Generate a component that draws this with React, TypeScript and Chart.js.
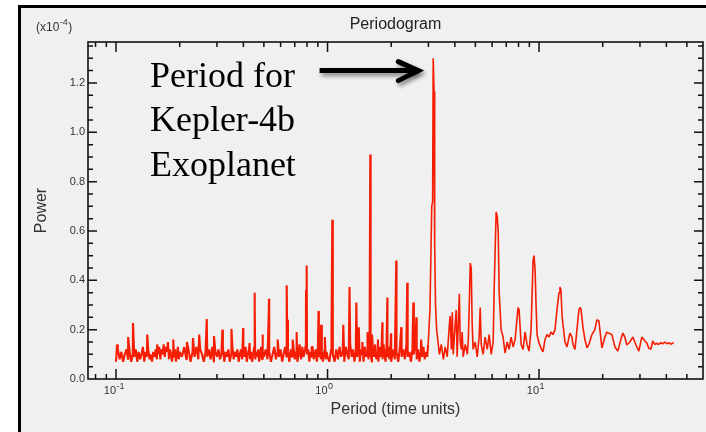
import React, { useEffect, useRef } from 'react';
import { Chart, registerables } from 'chart.js';

Chart.register(...registerables);

// ---------- text ----------
const TITLE = 'Periodogram';
const X_TITLE = 'Period (time units)';
const Y_TITLE = 'Power';
const Y_EXPONENT = '-4';
const CALLOUT_LINES = ['Period for', 'Kepler-4b', 'Exoplanet'];

// ---------- axes ----------
const X_MIN = 0.0737;
const X_MAX = 59.6;
const Y_MIN = 0;
const Y_MAX = 1.366;
const xTickValues = [0.08, 0.09, 0.1, 0.2, 0.3, 0.4, 0.5, 0.6, 0.7, 0.8, 0.9, 1, 2, 3, 4, 5, 6, 7, 8, 9, 10, 20, 30, 40, 50];
const xDecadeValues = [0.1, 1, 10];
const xDecadeExponents = ['-1', '0', '1'];
const yTickValues = [0, 0.05, 0.1, 0.15, 0.2, 0.25, 0.3, 0.35, 0.4, 0.45, 0.5, 0.55, 0.6, 0.65, 0.7, 0.75, 0.8, 0.85, 0.9, 0.95, 1.0, 1.05, 1.1, 1.15, 1.2, 1.25, 1.3, 1.35];
const yLabelValues = [0, 0.2, 0.4, 0.6, 0.8, 1.0, 1.2];

// ---------- data (period, power x1e-4) ----------
const noiseAPeriod = [0.100, 0.102, 0.104, 0.106, 0.108, 0.110, 0.112, 0.114, 0.116, 0.118, 0.120, 0.122, 0.124, 0.126, 0.128, 0.130, 0.132, 0.134, 0.136, 0.138, 0.140, 0.142, 0.144, 0.146, 0.148, 0.150, 0.152, 0.154, 0.156, 0.158, 0.160, 0.162, 0.164, 0.166, 0.168, 0.170, 0.172, 0.174, 0.176, 0.178, 0.180, 0.182, 0.184, 0.186, 0.188, 0.190, 0.192, 0.194, 0.196, 0.198, 0.200];
const noiseAPower = [0.07, 0.12, 0.08, 0.11, 0.07, 0.10, 0.12, 0.08, 0.11, 0.07, 0.10, 0.09, 0.12, 0.07, 0.11, 0.08, 0.10, 0.13, 0.07, 0.11, 0.09, 0.12, 0.08, 0.10, 0.07, 0.11, 0.09, 0.12, 0.08, 0.10, 0.13, 0.08, 0.12, 0.10, 0.14, 0.09, 0.13, 0.11, 0.15, 0.08, 0.12, 0.10, 0.07, 0.11, 0.09, 0.12, 0.07, 0.10, 0.13, 0.08, 0.11];

const noiseBPeriod = [0.205, 0.210, 0.215, 0.220, 0.225, 0.230, 0.235, 0.240, 0.245, 0.250, 0.255, 0.260, 0.265, 0.270, 0.275, 0.280, 0.285, 0.290, 0.295, 0.300, 0.305, 0.310, 0.315, 0.320, 0.325, 0.330, 0.335, 0.340, 0.345, 0.350, 0.355, 0.360, 0.365, 0.370, 0.375, 0.380, 0.385, 0.390, 0.395, 0.400, 0.405, 0.410, 0.415, 0.420, 0.425, 0.430, 0.435, 0.440, 0.445, 0.450, 0.455, 0.460, 0.465, 0.470, 0.475, 0.480, 0.485, 0.490, 0.495, 0.500];
const noiseBPower = [0.09, 0.13, 0.08, 0.12, 0.07, 0.11, 0.09, 0.13, 0.08, 0.12, 0.10, 0.07, 0.11, 0.09, 0.12, 0.08, 0.13, 0.07, 0.11, 0.09, 0.12, 0.08, 0.10, 0.13, 0.07, 0.11, 0.09, 0.12, 0.07, 0.10, 0.13, 0.08, 0.11, 0.09, 0.12, 0.07, 0.10, 0.12, 0.08, 0.11, 0.09, 0.13, 0.07, 0.10, 0.12, 0.08, 0.11, 0.07, 0.10, 0.13, 0.08, 0.11, 0.09, 0.12, 0.07, 0.10, 0.13, 0.08, 0.11, 0.09];

const noiseCPeriod = [0.51, 0.52, 0.53, 0.54, 0.55, 0.56, 0.57, 0.58, 0.59, 0.60, 0.61, 0.62, 0.63, 0.64, 0.65, 0.66, 0.67, 0.68, 0.69, 0.70, 0.71, 0.72, 0.73, 0.74, 0.75, 0.76, 0.77, 0.78, 0.79, 0.80, 0.81, 0.82, 0.83, 0.84, 0.85, 0.86, 0.87, 0.88, 0.89, 0.90, 0.91, 0.92, 0.93, 0.94, 0.95, 0.96, 0.97, 0.98, 0.99, 1.00];
const noiseCPower = [0.12, 0.08, 0.11, 0.07, 0.10, 0.13, 0.08, 0.11, 0.09, 0.12, 0.07, 0.10, 0.13, 0.09, 0.11, 0.07, 0.12, 0.09, 0.13, 0.08, 0.11, 0.07, 0.10, 0.12, 0.08, 0.13, 0.09, 0.11, 0.14, 0.10, 0.12, 0.07, 0.11, 0.09, 0.13, 0.08, 0.10, 0.12, 0.07, 0.11, 0.09, 0.13, 0.08, 0.11, 0.07, 0.10, 0.12, 0.08, 0.11, 0.09];

const noiseDPeriod = [1.02, 1.04, 1.06, 1.08, 1.10, 1.12, 1.14, 1.16, 1.18, 1.20, 1.22, 1.24, 1.26, 1.28, 1.30, 1.32, 1.34, 1.36, 1.38, 1.40, 1.42, 1.44, 1.46, 1.48, 1.50, 1.52, 1.54, 1.56, 1.58, 1.60, 1.62, 1.64, 1.66, 1.68, 1.70, 1.72, 1.74, 1.76, 1.78, 1.80, 1.82, 1.84, 1.86, 1.88, 1.90, 1.92, 1.94, 1.96, 1.98, 2.00];
const noiseDPower = [0.07, 0.12, 0.10, 0.07, 0.12, 0.08, 0.13, 0.09, 0.11, 0.07, 0.13, 0.10, 0.08, 0.14, 0.09, 0.12, 0.07, 0.11, 0.09, 0.13, 0.07, 0.12, 0.10, 0.07, 0.13, 0.09, 0.11, 0.08, 0.12, 0.10, 0.07, 0.12, 0.09, 0.14, 0.08, 0.11, 0.07, 0.13, 0.09, 0.12, 0.08, 0.14, 0.10, 0.07, 0.12, 0.09, 0.13, 0.08, 0.11, 0.07];

const noiseEPeriod = [2.04, 2.08, 2.12, 2.16, 2.20, 2.24, 2.28, 2.32, 2.36, 2.40, 2.44, 2.48, 2.52, 2.56, 2.60, 2.64, 2.68, 2.72, 2.76, 2.80, 2.84, 2.88, 2.92, 2.96];
const noiseEPower = [0.12, 0.08, 0.11, 0.07, 0.13, 0.09, 0.12, 0.08, 0.14, 0.09, 0.11, 0.07, 0.12, 0.10, 0.14, 0.08, 0.12, 0.07, 0.11, 0.09, 0.13, 0.08, 0.11, 0.09];

const spikePeriod = [
  0.1011, 0.1141, 0.1203, 0.1405, 0.1565, 0.1865,
  0.2163, 0.2312, 0.2473, 0.2685, 0.2905, 0.3183, 0.3513, 0.3992, 0.4283, 0.4515, 0.4535, 0.4927,
  0.5272, 0.5288, 0.5812, 0.6412, 0.6435, 0.6842, 0.7143, 0.7372, 0.7912, 0.7968, 0.8413, 0.9067, 0.9318, 0.9715,
  1.0443, 1.0532, 1.0583, 1.1872, 1.2703, 1.3685, 1.4055, 1.4613, 1.5452, 1.5921, 1.5975, 1.6225, 1.7315, 1.8173, 1.9185, 1.9962,
  2.1133, 2.1183, 2.2313, 2.3813, 2.3853, 2.5452, 2.6312, 2.7712,
];
const spikePower = [
  0.14, 0.17, 0.227, 0.18, 0.14, 0.16,
  0.15, 0.166, 0.18, 0.243, 0.174, 0.20, 0.203, 0.207, 0.146, 0.35, 0.30, 0.18,
  0.26, 0.325, 0.16, 0.38, 0.24, 0.16, 0.19, 0.14, 0.36, 0.46, 0.13, 0.276, 0.22, 0.17,
  0.186, 0.645, 0.62, 0.22, 0.373, 0.31, 0.21, 0.15, 0.19, 0.91, 0.87, 0.18, 0.16, 0.23, 0.33, 0.185,
  0.48, 0.40, 0.21, 0.39, 0.33, 0.31, 0.25, 0.16,
];

const mainPeakPeriod = [2.99, 3.05, 3.11, 3.14, 3.16, 3.19, 3.21, 3.24, 3.28, 3.33];
const mainPeakPower = [0.14, 0.28, 0.70, 0.72, 1.30, 1.165, 0.55, 0.30, 0.20, 0.15];

const midPeriod = [3.38, 3.45, 3.53, 3.60, 3.68, 3.76, 3.80, 3.85, 3.89, 3.93, 4.02, 4.06, 4.10, 4.20, 4.24, 4.29, 4.33, 4.38, 4.48, 4.58, 4.63, 4.68, 4.73, 4.78, 4.83, 4.88, 4.99, 5.10, 5.21, 5.27, 5.33, 5.44, 5.56, 5.69, 5.81, 5.94, 6.07, 6.13, 6.20, 6.27, 6.34, 6.41, 6.48, 6.62, 6.76, 6.91, 7.07, 7.22, 7.38, 7.54, 7.71, 7.88, 7.96, 8.05, 8.23, 8.41, 8.59, 8.78, 8.97, 9.17, 9.27, 9.37, 9.47, 9.58, 9.68, 9.79, 10.0];
const midPower = [0.10, 0.14, 0.08, 0.13, 0.09, 0.21, 0.255, 0.12, 0.27, 0.10, 0.23, 0.28, 0.09, 0.345, 0.15, 0.12, 0.19, 0.09, 0.14, 0.10, 0.16, 0.30, 0.47, 0.45, 0.22, 0.12, 0.15, 0.09, 0.17, 0.29, 0.14, 0.10, 0.17, 0.12, 0.18, 0.10, 0.15, 0.35, 0.52, 0.677, 0.66, 0.60, 0.35, 0.20, 0.17, 0.105, 0.15, 0.12, 0.17, 0.13, 0.16, 0.25, 0.29, 0.28, 0.14, 0.12, 0.19, 0.14, 0.113, 0.20, 0.34, 0.48, 0.50, 0.44, 0.30, 0.18, 0.146];

const tailPeriod = [10.22, 10.44, 10.67, 10.91, 11.15, 11.39, 11.64, 11.90, 12.16, 12.43, 12.56, 12.70, 12.84, 12.98, 13.27, 13.56, 13.86, 14.01, 14.31, 14.47, 14.79, 15.11, 15.44, 15.61, 15.78, 16.13, 16.48, 16.84, 17.21, 17.78, 18.37, 18.77, 19.19, 19.83, 20.48, 20.93, 21.39, 22.10, 22.84, 23.59, 24.37, 24.91, 25.45, 26.01, 26.87, 27.76, 28.68, 29.64, 30.61, 31.62, 32.32, 33.03, 33.76, 34.49, 35.26, 36.03, 36.81, 37.63, 38.46, 39.29, 40.17, 41.05, 41.94, 42.87, 43.33];
const tailPower = [0.125, 0.11, 0.16, 0.18, 0.17, 0.19, 0.18, 0.20, 0.28, 0.35, 0.373, 0.36, 0.26, 0.22, 0.15, 0.13, 0.17, 0.186, 0.17, 0.14, 0.12, 0.20, 0.28, 0.29, 0.285, 0.21, 0.16, 0.126, 0.14, 0.18, 0.20, 0.24, 0.235, 0.126, 0.17, 0.19, 0.185, 0.18, 0.13, 0.113, 0.16, 0.186, 0.17, 0.138, 0.15, 0.17, 0.14, 0.113, 0.17, 0.155, 0.146, 0.125, 0.12, 0.154, 0.14, 0.145, 0.14, 0.148, 0.142, 0.15, 0.143, 0.147, 0.141, 0.146, 0.144];

// callout anchors in data coordinates
const CALLOUT_PERIOD = 0.1446;
const CALLOUT_POWER = 1.184;
const ARROW_FROM_PERIOD = 0.917;
const ARROW_TO_PERIOD = 2.716;
const ARROW_POWER = 1.25;

// the dense (short-period) part of the curve is drawn with a slightly heavier stroke
const DENSE_LIMIT_PERIOD = 3.0;

const SANS = '"Liberation Sans", Arial, Helvetica, sans-serif';
const SERIF = '"Liberation Serif", "Times New Roman", Times, serif';
const LINE_COLOR = 'rgb(245, 30, 5)';

function zip(p: number[], v: number[]) {
  const n = Math.min(p.length, v.length);
  const out: { x: number; y: number }[] = [];
  for (let i = 0; i < n; i++) out.push({ x: p[i], y: v[i] });
  return out;
}

const isDecade = (v: number) => Math.abs(Math.log10(v) - Math.round(Math.log10(v))) < 1e-9;
const isYLabel = (v: number) => yLabelValues.some((l) => Math.abs(l - v) < 1e-9);

const framePlugin = {
  id: 'pageFrame',
  beforeDraw(chart: any) {
    const { ctx, width, height } = chart;
    ctx.save();
    ctx.fillStyle = '#ffffff';
    ctx.fillRect(0, 0, width, height);
    ctx.fillStyle = '#f0f0f0';
    ctx.fillRect(18, 5, width - 18, height - 5);
    ctx.fillStyle = '#000000';
    ctx.fillRect(18, 5, 3, height - 5);
    ctx.fillRect(18, 5, width - 18, 3);
    ctx.restore();
  },
};

const axesPlugin = {
  id: 'axesBox',
  afterDatasetsDraw(chart: any) {
    const { ctx, chartArea: a, scales } = chart;
    const xs = scales.x;
    const ys = scales.y;
    ctx.save();
    ctx.strokeStyle = '#111111';
    ctx.lineWidth = 1.5;
    ctx.beginPath();
    for (const t of xs.ticks) {
      const px = xs.getPixelForValue(t.value);
      if (px < a.left + 1 || px > a.right - 1) continue;
      const len = isDecade(t.value) ? 10 : 5;
      ctx.moveTo(px, a.bottom);
      ctx.lineTo(px, a.bottom - len);
      ctx.moveTo(px, a.top);
      ctx.lineTo(px, a.top + len);
    }
    for (const t of ys.ticks) {
      const py = ys.getPixelForValue(t.value);
      if (py < a.top + 1 || py > a.bottom - 1) continue;
      const len = isYLabel(t.value) ? 9 : 5;
      ctx.moveTo(a.left, py);
      ctx.lineTo(a.left + len, py);
      ctx.moveTo(a.right, py);
      ctx.lineTo(a.right - len, py);
    }
    ctx.stroke();
    ctx.lineWidth = 1.6;
    ctx.strokeRect(a.left, a.top, a.right - a.left, a.bottom - a.top);
    ctx.restore();
  },
};

const textPlugin = {
  id: 'extraText',
  afterDraw(chart: any) {
    const { ctx, chartArea: a, scales } = chart;
    const xs = scales.x;
    const ys = scales.y;
    ctx.save();
    // exponent of the power axis
    ctx.fillStyle = '#333333';
    ctx.textAlign = 'left';
    ctx.textBaseline = 'alphabetic';
    let cx = a.left - 52;
    const by = 31;
    ctx.font = `12px ${SANS}`;
    ctx.fillText('(x10', cx, by);
    cx += ctx.measureText('(x10').width + 0.5;
    ctx.font = `9px ${SANS}`;
    ctx.fillText(Y_EXPONENT, cx, by - 6);
    cx += ctx.measureText(Y_EXPONENT).width + 0.5;
    ctx.font = `12px ${SANS}`;
    ctx.fillText(')', cx, by);

    // decade labels on the period axis
    xDecadeValues.forEach((v, i) => {
      const px = xs.getPixelForValue(v);
      ctx.font = `11px ${SANS}`;
      ctx.textAlign = 'right';
      ctx.fillText('10', px, a.bottom + 15);
      ctx.font = `9px ${SANS}`;
      ctx.textAlign = 'left';
      ctx.fillText(xDecadeExponents[i], px + 0.5, a.bottom + 10);
    });

    // callout
    ctx.fillStyle = '#000000';
    ctx.font = `36px ${SERIF}`;
    ctx.textAlign = 'left';
    const tx = xs.getPixelForValue(CALLOUT_PERIOD);
    const ty = ys.getPixelForValue(CALLOUT_POWER);
    CALLOUT_LINES.forEach((s, i) => ctx.fillText(s, tx, ty + i * 44.3));

    // arrow
    const x0 = xs.getPixelForValue(ARROW_FROM_PERIOD);
    const x1 = xs.getPixelForValue(ARROW_TO_PERIOD);
    const ay = ys.getPixelForValue(ARROW_POWER);
    ctx.shadowColor = 'rgba(0,0,0,0.45)';
    ctx.shadowBlur = 4;
    ctx.shadowOffsetX = 2;
    ctx.shadowOffsetY = 3;
    ctx.strokeStyle = '#000000';
    ctx.lineWidth = 5;
    ctx.lineCap = 'butt';
    ctx.beginPath();
    ctx.moveTo(x0, ay);
    ctx.lineTo(x1 - 4, ay);
    ctx.stroke();
    ctx.lineCap = 'round';
    ctx.lineJoin = 'miter';
    ctx.beginPath();
    ctx.moveTo(x1 - 21, ay - 9);
    ctx.lineTo(x1 - 1, ay);
    ctx.lineTo(x1 - 21, ay + 10);
    ctx.stroke();
    ctx.restore();
  },
};

export default function App() {
  const canvasRef = useRef<HTMLCanvasElement | null>(null);

  useEffect(() => {
    const canvas = canvasRef.current;
    if (!canvas) return;
    const points = [
      ...zip(noiseAPeriod, noiseAPower),
      ...zip(noiseBPeriod, noiseBPower),
      ...zip(noiseCPeriod, noiseCPower),
      ...zip(noiseDPeriod, noiseDPower),
      ...zip(noiseEPeriod, noiseEPower),
      ...zip(spikePeriod, spikePower),
      ...zip(mainPeakPeriod, mainPeakPower),
      ...zip(midPeriod, midPower),
      ...zip(tailPeriod, tailPower),
    ].sort((p, q) => p.x - q.x);

    const chart = new Chart(canvas, {
      type: 'line',
      data: {
        datasets: [
          {
            label: 'Power',
            data: points,
            borderColor: LINE_COLOR,
            borderWidth: 1.6,
            borderJoinStyle: 'bevel',
            pointRadius: 0,
            tension: 0,
            fill: false,
            segment: {
              borderWidth: (c: any) => (c.p1.parsed.x <= DENSE_LIMIT_PERIOD ? 2.1 : 1.6),
            },
          },
        ],
      },
      options: {
        animation: false,
        responsive: false,
        devicePixelRatio: 1,
        layout: { padding: { left: 0, top: 0, right: 3, bottom: 0 } },
        plugins: {
          legend: { display: false },
          tooltip: { enabled: false },
          title: {
            display: true,
            text: TITLE,
            fullSize: false,
            color: '#222222',
            font: { family: SANS, size: 16, weight: 'normal', lineHeight: 1.2 },
            padding: { top: 14.7, bottom: 8.1 },
          },
        },
        scales: {
          x: {
            type: 'logarithmic',
            min: X_MIN,
            max: X_MAX,
            grid: { display: false, drawTicks: false },
            border: { display: false },
            ticks: { display: false, autoSkip: false },
            afterBuildTicks: (s: any) => {
              s.ticks = xTickValues.map((v) => ({ value: v }));
            },
            afterFit: (s: any) => {
              s.height = 53;
            },
            title: {
              display: true,
              text: X_TITLE,
              color: '#333333',
              font: { family: SANS, size: 16, weight: 'normal', lineHeight: 1.2 },
              padding: { top: 0, bottom: 13.1 },
            },
          },
          y: {
            type: 'linear',
            min: Y_MIN,
            max: Y_MAX,
            grid: { display: false, drawTicks: false },
            border: { display: false },
            afterBuildTicks: (s: any) => {
              s.ticks = yTickValues.map((v) => ({ value: v }));
            },
            afterFit: (s: any) => {
              s.width = 88;
            },
            ticks: {
              autoSkip: false,
              padding: 3,
              color: '#333333',
              font: { family: SANS, size: 11 },
              callback: (v: any) => (isYLabel(Number(v)) ? Number(v).toFixed(1) : ''),
            },
            title: {
              display: true,
              text: Y_TITLE,
              color: '#333333',
              font: { family: SANS, size: 16, weight: 'normal', lineHeight: 1.2 },
              padding: { top: 31.9, bottom: 0 },
            },
          },
        },
      },
      plugins: [framePlugin, axesPlugin, textPlugin],
    } as any);

    return () => chart.destroy();
  }, []);

  return (
    <div style={{ position: 'fixed', left: 0, top: 0, width: 706, height: 432 }}>
      <canvas ref={canvasRef} width={706} height={432} style={{ display: 'block', width: 706, height: 432 }} />
    </div>
  );
}
